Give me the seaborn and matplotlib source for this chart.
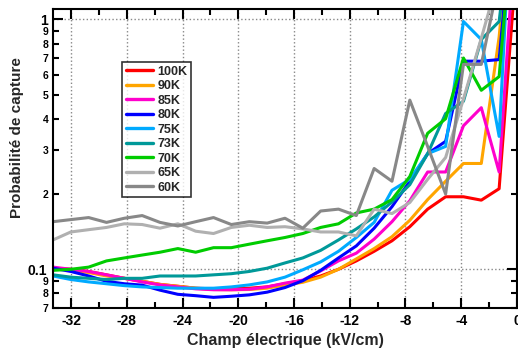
import pandas as pd
import matplotlib
matplotlib.use("Agg")
import matplotlib.pyplot as plt
import matplotlib.ticker as mticker
import seaborn as sns

# champ electrique (kV/cm)
field = [-33.3, -32.02, -30.74, -29.46, -28.18, -26.9, -25.62, -24.34, -23.06,
         -21.78, -20.5, -19.21, -17.93, -16.65, -15.37, -14.09, -12.81, -11.53,
         -10.25, -8.97, -7.69, -6.41, -5.12, -3.84, -2.56, -1.28, 0.0]

p100 = [0.101, 0.1, 0.098, 0.095, 0.092, 0.0895, 0.087, 0.0855, 0.084, 0.0835,
        0.0835, 0.084, 0.085, 0.0875, 0.09, 0.094, 0.1, 0.108, 0.118, 0.13,
        0.148, 0.174, 0.195, 0.195, 0.189, 0.21, 1.8]
p90 = [0.101, 0.099, 0.097, 0.094, 0.092, 0.0895, 0.087, 0.0855, 0.084, 0.083,
       0.0828, 0.083, 0.084, 0.0865, 0.0887, 0.093, 0.1, 0.11, 0.121, 0.135,
       0.157, 0.19, 0.225, 0.265, 0.265, 0.85, 5.0]
p85 = [0.102, 0.1, 0.098, 0.095, 0.092, 0.089, 0.0866, 0.085, 0.0835, 0.0828,
       0.0828, 0.0832, 0.085, 0.088, 0.0905, 0.0985, 0.108, 0.116, 0.132, 0.155,
       0.188, 0.245, 0.245, 0.375, 0.443, 0.245, 2.8]
p80 = [0.101, 0.098, 0.094, 0.0895, 0.0875, 0.0864, 0.0825, 0.0794, 0.0784, 0.0772,
       0.078, 0.079, 0.081, 0.0845, 0.09, 0.099, 0.111, 0.124, 0.146, 0.178,
       0.225, 0.29, 0.325, 0.68, 0.68, 0.69, 4.0]
p75 = [0.094, 0.091, 0.089, 0.0875, 0.086, 0.085, 0.0845, 0.084, 0.084, 0.084,
       0.085, 0.0866, 0.089, 0.093, 0.0995, 0.107, 0.118, 0.134, 0.154, 0.207,
       0.229, 0.29, 0.31, 0.98, 0.83, 0.34, 8.0]
p73 = [0.095, 0.093, 0.092, 0.091, 0.092, 0.092, 0.094, 0.094, 0.094, 0.095,
       0.096, 0.098, 0.101, 0.106, 0.111, 0.119, 0.131, 0.145, 0.162, 0.186,
       0.218, 0.29, 0.42, 0.47, 0.83, 0.98, 4.0]
p70 = [0.099, 0.1, 0.102, 0.108, 0.111, 0.114, 0.117, 0.121, 0.117, 0.122,
       0.122, 0.126, 0.13, 0.134, 0.139, 0.147, 0.152, 0.168, 0.174, 0.19,
       0.235, 0.35, 0.4, 0.7, 0.52, 0.59, 4.0]
p65 = [0.131, 0.141, 0.144, 0.147, 0.152, 0.151, 0.146, 0.152, 0.142, 0.139,
       0.147, 0.15, 0.147, 0.148, 0.145, 0.141, 0.141, 0.136, 0.174, 0.167,
       0.185, 0.229, 0.28, 0.48, 0.84, 1.5, 3.0]
p60 = [0.155, 0.158, 0.161, 0.154, 0.16, 0.164, 0.154, 0.149, 0.155, 0.161,
       0.151, 0.155, 0.153, 0.16, 0.146, 0.171, 0.174, 0.164, 0.253, 0.225,
       0.475, 0.31, 0.2, 0.66, 0.66, 1.45, 3.0]

temps = ["100K", "90K", "85K", "80K", "75K", "73K", "70K", "65K", "60K"]
colors = ["#ff0000", "#ffa500", "#ff00cc", "#0000ff", "#00aaff",
          "#009999", "#00cc00", "#b0b0b0", "#888888"]
series = [p100, p90, p85, p80, p75, p73, p70, p65, p60]

rows = []
for t, vals in zip(temps, series):
    for x, v in zip(field, vals):
        rows.append({"field": x, "prob": v, "T": t})
df = pd.DataFrame(rows)

sns.set_theme(style="ticks")
plt.rcParams["font.family"] = ["Liberation Sans", "DejaVu Sans"]
plt.rcParams["font.weight"] = "bold"
plt.rcParams["axes.unicode_minus"] = False

fig = plt.figure(figsize=(5.18, 3.58), dpi=100)
ax = fig.add_axes([0.1023, 0.1397, 0.8957, 0.8353])

sns.lineplot(data=df, x="field", y="prob", hue="T", hue_order=temps,
             palette=colors, linewidth=2.2, sort=False, ax=ax)

ax.set_yscale("log")
ax.set_xlim(-33.3, 0)
ax.set_ylim(0.07, 1.1)

ax.xaxis.set_major_locator(mticker.MultipleLocator(4))
ax.xaxis.set_minor_locator(mticker.MultipleLocator(2))
ax.xaxis.set_major_formatter(mticker.FuncFormatter(lambda v, p: "%d" % round(v)))

ax.yaxis.set_major_locator(mticker.FixedLocator([0.1, 1]))
ax.yaxis.set_major_formatter(mticker.FixedFormatter(["0.1", "1"]))
minor = [0.07, 0.08, 0.09, 0.2, 0.3, 0.4, 0.5, 0.6, 0.7, 0.8, 0.9]
ax.yaxis.set_minor_locator(mticker.FixedLocator(minor))
ax.yaxis.set_minor_formatter(mticker.FixedFormatter(
    ["7", "8", "9", "2", "3", "4", "5", "6", "7", "8", "9"]))

ax.tick_params(which="both", direction="in", top=True, right=True, colors="black")
ax.tick_params(which="major", length=7, width=1.5, labelsize=10, pad=4)
ax.tick_params(which="minor", length=4, width=1.5)
ax.tick_params(axis="y", which="minor", labelsize=7.5, pad=3)
for lab in ax.get_xticklabels() + ax.get_yticklabels(which="both"):
    lab.set_fontweight("bold")

ax.grid(which="major", linestyle=":", color="#888888", linewidth=1)
for s in ax.spines.values():
    s.set_linewidth(1.5)
    s.set_color("black")

ax.set_xlabel("Champ électrique (kV/cm)", fontsize=11.5, fontweight="bold", labelpad=4)
ax.set_ylabel("Probabilité de capture", fontsize=11, fontweight="bold")
ax.yaxis.set_label_coords(-0.063, 0.569)

leg = ax.legend(loc="upper left", bbox_to_anchor=(0.1487, 0.8227), borderaxespad=0,
                frameon=True, fancybox=False, edgecolor="black", fontsize=9,
                handlelength=2.2, labelspacing=0.2, borderpad=0.3,
                handletextpad=0.35)
leg.get_frame().set_linewidth(1.2)
for txt in leg.get_texts():
    txt.set_fontweight("bold")
for ln in leg.get_lines():
    ln.set_linewidth(2.4)

fig.savefig("out.png", dpi=100)
